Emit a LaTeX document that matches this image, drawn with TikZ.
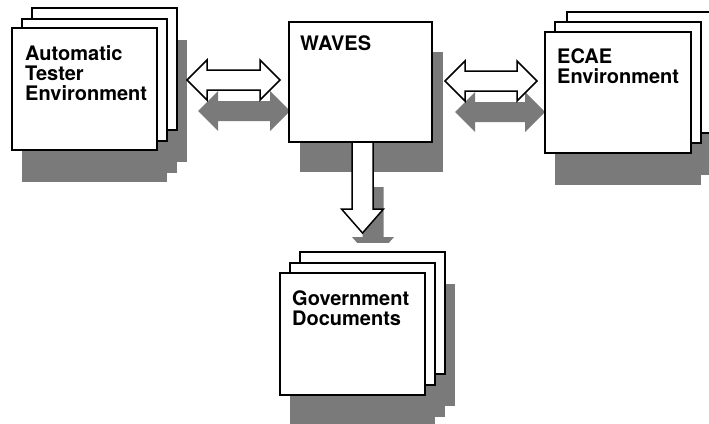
\documentclass[tikz,border=0pt]{standalone}
\usepackage{fontspec}
\setmainfont{TeX Gyre Heros}
\newcommand\hdblarrow[4]{\path[#4] (#1,#3) -- (#1+20,#3-20) -- (#1+20,#3-10) -- (#2-20,#3-10) -- (#2-20,#3-20) -- (#2,#3) -- (#2-20,#3+20) -- (#2-20,#3+10) -- (#1+20,#3+10) -- (#1+20,#3+20) -- cycle;}
\newcommand\vdownarrow[5]{\path[#5] (#1-10.5,#2) -- (#1-10.5,#3) -- (#1-21,#3) -- (#1,#4) -- (#1+21,#3) -- (#1+10.5,#3) -- (#1+10.5,#2) -- cycle;}
\begin{document}
\begin{tikzpicture}[x=1pt,y=-1pt,
  sheet/.style={draw=black, line width=1.7pt, fill=white},
  frontbox/.style={sheet, rectangle, inner sep=0pt, outer sep=0pt, anchor=north west},
  shade/.style={fill=black!52},
  blk/.style={draw=black, line width=1.5pt, fill=white, line join=miter},
  lbl/.style={font=\bfseries\fontsize{20}{20}\selectfont, align=left, anchor=north west, inner sep=0pt}]
\useasboundingbox (0,0) rectangle (709,423);
\clip (0,0) rectangle (709,423);
% ---- shadows ----
\foreach \x/\y in {32/8,22/19,12/28} \fill[shade] (\x+10,\y+32) rectangle ++(145,122);
\foreach \x/\y in {567/12,555/22,545/32} \fill[shade] (\x+10,\y+32) rectangle ++(146,121);
\foreach \x/\y in {300/252,290/263,280/273} \fill[shade] (\x+10,\y+32) rectangle ++(145,122);
\fill[shade] (300,52) rectangle (443,172);
\hdblarrow{198}{290}{111}{shade}
\hdblarrow{455}{545}{112}{shade}
\begin{scope}
  \clip (0,0) rectangle (709,242);
  \vdownarrow{373}{187}{237}{261}{shade}
\end{scope}
% ---- sheets ----
\foreach \x/\y in {32/8,22/19} \draw[sheet] (\x,\y) rectangle ++(145,122);
\node[frontbox, minimum width=145pt, minimum height=122pt] (ate) at (12,28) {};
\foreach \x/\y in {567/12,555/22} \draw[sheet] (\x,\y) rectangle ++(146,121);
\node[frontbox, minimum width=146pt, minimum height=121pt] (ecae) at (545,32) {};
\foreach \x/\y in {300/252,290/263} \draw[sheet] (\x,\y) rectangle ++(145,122);
\node[frontbox, minimum width=145pt, minimum height=122pt] (gov) at (280,273) {};
\node[frontbox, minimum width=143pt, minimum height=120pt] (waves) at (289,22) {};
% ---- block arrows ----
\hdblarrow{187}{280}{80}{blk}
\hdblarrow{445}{537}{81}{blk}
\vdownarrow{362.5}{142}{209}{233}{blk}
% ---- labels ----
\node[lbl] (ate-t) at (25,45.6) {Automatic\\Tester\\Environment};
\node[lbl] (waves-t) at (300,35.6) {WAVES};
\node[lbl] (ecae-t) at (557,48.6) {ECAE\\Environment};
\node[lbl] (gov-t) at (292,290.6) {Government\\Documents};
\end{tikzpicture}
\end{document}
